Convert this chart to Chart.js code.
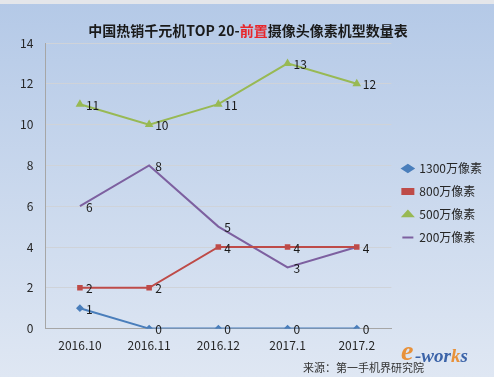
<!DOCTYPE html>
<html>
<head>
<meta charset="utf-8">
<script src="https://cdn.jsdelivr.net/npm/chart.js@4.4.0/dist/chart.umd.min.js"></script>
<style>
  body { margin: 0; }
  #wrap { width: 494px; height: 377px; position: relative; }
</style>
</head>
<body>
<div id="wrap"><canvas id="myChart"></canvas></div>
<script>
// data
const months = ['2016.10', '2016.11', '2016.12', '2017.1', '2017.2'];
const px1300 = [1, 0, 0, 0, 0];
const px800 = [2, 2, 4, 4, 4];
const px500 = [11, 10, 11, 13, 12];
const px200 = [6, 8, 5, 3, 4];
const yTicks = [0, 2, 4, 6, 8, 10, 12, 14];

const FONT = "'Noto Sans CJK SC', 'Liberation Sans', sans-serif";

// background, title, value labels, source
const decor = {
  id: 'decor',
  beforeDraw(chart) {
    const { ctx, width, height } = chart;
    const g = ctx.createLinearGradient(0, 0, 0, height);
    g.addColorStop(0, '#b4c9e7');
    g.addColorStop(1, '#dfe7f3');
    ctx.save();
    ctx.fillStyle = g;
    ctx.fillRect(0, 0, width, height);
    ctx.fillStyle = '#e4e6ea';
    ctx.fillRect(0, 0, width, 4);
    ctx.restore();
  },
  afterDatasetsDraw(chart) {
    const { ctx } = chart;
    ctx.save();
    ctx.font = '12px ' + FONT;
    ctx.fillStyle = '#1a1a1a';
    ctx.textAlign = 'left';
    ctx.textBaseline = 'middle';
    const done = {};
    chart.data.datasets.forEach((ds, i) => {
      chart.getDatasetMeta(i).data.forEach((pt, j) => {
        const key = Math.round(pt.x) + ',' + Math.round(pt.y);
        if (done[key]) return;
        done[key] = true;
        ctx.fillText(String(ds.data[j]), pt.x + 6, pt.y + 1);
      });
    });
    ctx.restore();
  },
  afterDraw(chart) {
    const { ctx } = chart;
    ctx.save();
    // title with the red part
    const parts = [['中国热销千元机TOP 20-', '#1a1a1a'], ['前置', '#e8262a'], ['摄像头像素机型数量表', '#1a1a1a']];
    ctx.font = 'bold 14px ' + FONT;
    ctx.textBaseline = 'middle';
    ctx.textAlign = 'left';
    const total = parts.reduce((s, p) => s + ctx.measureText(p[0]).width, 0);
    let x = 248 - total / 2;
    parts.forEach(([t, c]) => {
      ctx.fillStyle = c;
      ctx.fillText(t, x, 31);
      x += ctx.measureText(t).width;
    });
    // source
    ctx.font = '11px ' + FONT;
    ctx.fillStyle = '#333';
    ctx.fillText('来源：第一手机界研究院', 303, 368);
    // logo
    ctx.font = 'italic bold 28px "Liberation Serif", serif';
    ctx.fillStyle = '#e8913a';
    ctx.fillText('e', 401, 353);
    const logo = [['-wor', '#3b63a8'], ['k', '#e8913a'], ['s', '#3b63a8']];
    ctx.font = 'italic bold 19px "Liberation Serif", serif';
    let lx = 415;
    logo.forEach(([t, c]) => {
      ctx.fillStyle = c;
      ctx.fillText(t, lx, 357);
      lx += ctx.measureText(t).width;
    });
    ctx.restore();
  }
};

const ctx = document.getElementById('myChart').getContext('2d');
new Chart(ctx, {
  type: 'line',
  data: {
    labels: months,
    datasets: [
      { label: '1300万像素', data: px1300, borderColor: '#4a7ebb', backgroundColor: '#4a7ebb', pointStyle: 'rectRot', pointRadius: 2.5, borderWidth: 2 },
      { label: '800万像素', data: px800, borderColor: '#be4b48', backgroundColor: '#be4b48', pointStyle: 'rect', pointRadius: 2.5, borderWidth: 2 },
      { label: '500万像素', data: px500, borderColor: '#98b954', backgroundColor: '#98b954', pointStyle: 'triangle', pointRadius: 3, borderWidth: 2 },
      { label: '200万像素', data: px200, borderColor: '#7d60a0', backgroundColor: '#7d60a0', pointStyle: 'line', pointRadius: 0, borderWidth: 2 }
    ]
  },
  options: {
    responsive: true,
    maintainAspectRatio: false,
    animation: false,
    layout: { padding: { top: 43, left: 8, right: 2, bottom: 14 } },
    plugins: {
      title: { display: false },
      tooltip: { enabled: false },
      legend: {
        position: 'right',
        align: 'center',
        labels: {
          usePointStyle: true,
          pointStyleWidth: 11,
          boxWidth: 6,
          boxHeight: 5,
          padding: 11,
          color: '#262626',
          font: { family: FONT, size: 12 }
        }
      }
    },
    scales: {
      x: {
        offset: true,
        grid: { display: false, drawTicks: false },
        border: { color: '#a6a6a6' },
        ticks: { color: '#262626', padding: 10, font: { family: FONT, size: 12 } }
      },
      y: {
        min: 0,
        max: 14,
        afterBuildTicks(axis) { axis.ticks = yTicks.map(v => ({ value: v })); },
        grid: { color: '#cfd3d9', drawTicks: false },
        border: { color: '#a6a6a6' },
        ticks: { color: '#262626', padding: 12, font: { family: FONT, size: 12 } }
      }
    }
  },
  plugins: [decor]
});
</script>
</body>
</html>
